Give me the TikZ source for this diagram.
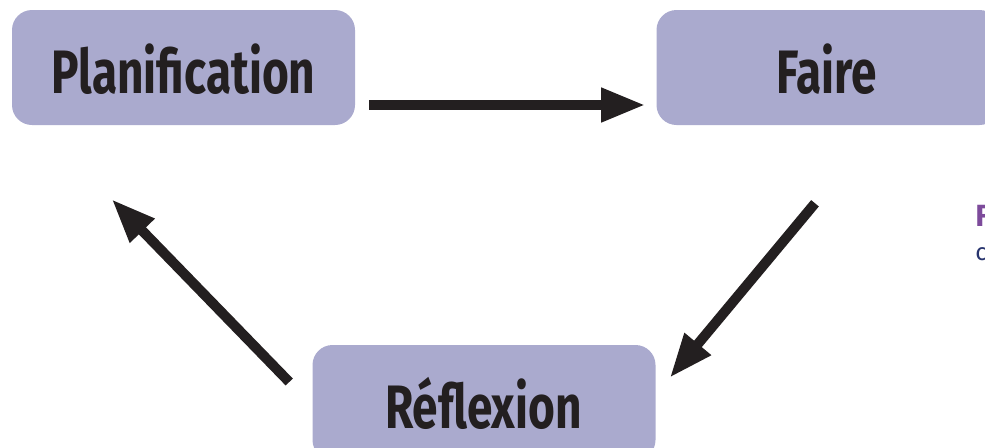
\documentclass[tikz,border=0pt]{standalone}
\usepackage{fontspec}
\setmainfont{Fira Sans}
\usetikzlibrary{arrows.meta,calc}
\definecolor{boxfill}{RGB}{170,170,206}
\definecolor{ink}{RGB}{35,31,32}
\definecolor{sidepurple}{RGB}{125,75,155}
\definecolor{sideblue}{RGB}{40,52,110}
\begin{document}
\begin{tikzpicture}[x=0.75pt,y=-0.75pt,
  stagebox/.style={fill=boxfill, rounded corners=15pt, minimum width=257.25pt, minimum height=86.25pt, inner sep=0pt},
  stagetext/.style={anchor=base, inner sep=0pt, text=ink, font=\bfseries\fontsize{46}{50}\selectfont},
  flow/.style={draw=ink, line width=7.5pt, -{Triangle[length=33pt,width=24pt]}}]
\useasboundingbox (0,0) rectangle (985,447);
\clip (0,0) rectangle (985,447);
\node[stagebox] (plan) at (183.5,67.5) {};
\node[stagebox] (faire) at (828,67.5) {};
\node[stagebox] (refl) at (484,402.5) {};
\node[stagetext] (plantext) at (183.5,93) {\scalebox{0.75}[1]{Planification}};
\node[stagetext] (fairetext) at (827,93) {\scalebox{0.75}[1]{Faire}};
\node[stagetext] (refltext) at (483.5,428) {\scalebox{0.75}[1]{Réflexion}};
\draw[flow] ($(plan.east)+(14,37.5)$) -- ($(faire.west)+(-11,37.5)$);
\draw[flow] ($(faire.south)+(-13,78)$) -- ($(refl.north east)+(14,33)$);
\draw[flow] ($(refl.west)+(-23,-20.5)$) -- ($(plan.south west)+(100,74)$);
\node[anchor=base west, inner sep=0pt, text=sidepurple, font=\bfseries\fontsize{23}{26}\selectfont] (sidehead) at (975,226) {F};
\node[anchor=base west, inner sep=0pt, text=sideblue, font=\fontsize{18}{22}\selectfont] (sidebody) at (975,260) {c};
\end{tikzpicture}
\end{document}
